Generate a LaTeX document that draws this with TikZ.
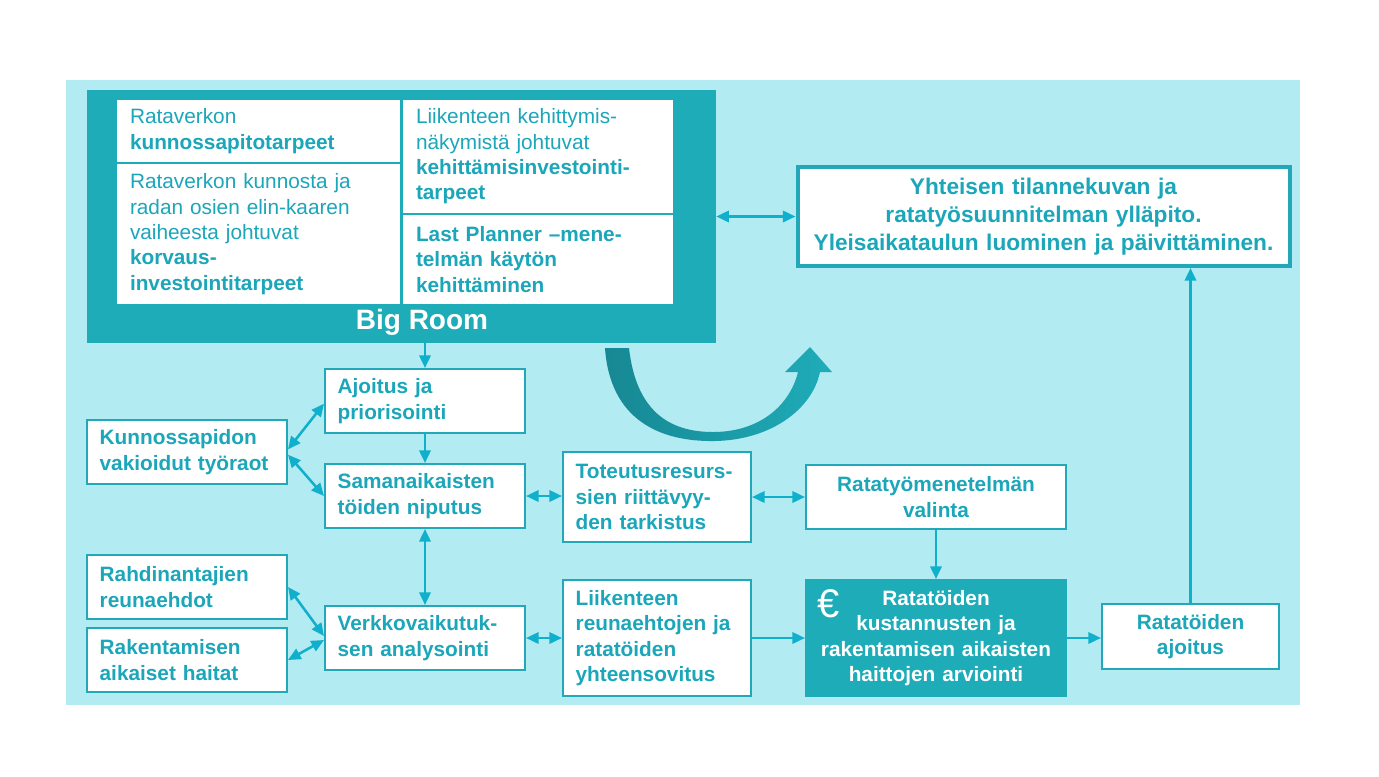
\documentclass[tikz,border=0pt]{standalone}
\usepackage{fontspec}
\setmainfont{Liberation Sans}
\usetikzlibrary{arrows.meta, positioning}
\definecolor{bgcyan}{RGB}{178,235,242}
\definecolor{roomteal}{RGB}{31,172,185}
\definecolor{darkteal}{RGB}{22,136,147}
\definecolor{lineteal}{RGB}{35,168,186}
\definecolor{textteal}{RGB}{27,166,186}
\definecolor{arrowcyan}{RGB}{16,176,204}
\newcommand{\boxfont}{\fontsize{15.6}{19}\selectfont}
\tikzset{
    box/.style = {draw=lineteal, line width=1.5pt, fill=white, text=textteal, font=\boxfont\bfseries, inner xsep=9.5pt, inner ysep=0pt, align=left},
    cbox/.style = {box, align=center},
    cell/.style = {fill=white, text=textteal, font=\boxfont, inner xsep=9.75pt, inner ysep=0pt, align=left},
    flow/.style = {draw=arrowcyan, line width=1.9pt, >={Triangle[length=9.5pt,width=8.5pt]}, ->},
    flow2/.style = {flow, <->},
}

\begin{document}
\begin{tikzpicture}[x=0.75pt, y=-0.75pt]
    \useasboundingbox (0,0) rectangle (1379,776);
    \fill[white] (0,0) rectangle (1379,776);
    \fill[bgcyan] (66,80) rectangle (1300,705);

    % big room
    \node[fill=roomteal, minimum width=471.75pt, minimum height=189.75pt, inner sep=0pt] (big) at (401.5,216.5) {};
    \node[cell, text width=192.75pt, minimum height=46.5pt] (c1) at (258.5,131) {Rataverkon\\\textbf{kunnossapitotarpeet}};
    \node[cell, text width=192.75pt, minimum height=105pt] (c2) at (258.5,234) {Rataverkon kunnosta ja\\radan osien elin-kaaren\\vaiheesta johtuvat\\\textbf{korvaus-}\\\textbf{investointitarpeet}};
    \node[cell, text width=183pt, minimum height=84.75pt] (c3) at (538,156.5) {Liikenteen kehittymis-\\näkymistä johtuvat\\\textbf{kehittämisinvestointi-}\\\textbf{tarpeet}};
    \node[cell, text width=183pt, minimum height=66.75pt, font=\boxfont\bfseries] (c4) at (538,259.5) {Last Planner –mene-\\telmän käytön\\kehittäminen};
    \node[text=white, font=\fontsize{21}{24}\selectfont\bfseries, inner sep=0pt] (bigtext) at (422,322) {Big Room};

    \node[cbox, line width=3pt, text width=350pt, minimum height=74.25pt, font=\fontsize{17}{21}\selectfont\bfseries] (yht) at (1043.5,216.5) {Yhteisen tilannekuvan ja\\ratatyösuunnitelman ylläpito.\\Yleisaikataulun luominen ja päivittäminen.};

    % curved arrow
    \shade[left color=darkteal, right color=roomteal] (605,348) .. controls (610,420) and (660,442) .. (715,441) .. controls (770,440) and (812,410) .. (820,372) -- (832,372) -- (810,347) -- (785,372) -- (798,372) .. controls (790,405) and (760,432) .. (713,432) .. controls (668,432) and (636,410) .. (629,348) -- cycle;

    % left part
    \node[box, text width=131pt, minimum height=48pt] (ajo) at (425,401) {Ajoitus ja\\priorisointi};
    \node[box, text width=131pt, minimum height=48pt] (kun) at (187,452) {Kunnossapidon\\vakioidut työraot};
    \node[box, text width=131pt, minimum height=48pt] (sam) at (425,496) {Samanaikaisten\\töiden niputus};
    \node[box, text width=131pt, minimum height=48pt] (rah) at (187,587) {Rahdinantajien\\reunaehdot};
    \node[box, text width=131pt, minimum height=48pt] (rak) at (187,660) {Rakentamisen\\aikaiset haitat};
    \node[box, text width=131pt, minimum height=48pt] (ver) at (425,638) {Verkkovaikutuk-\\sen analysointi};

    % middle and right part
    \node[box, text width=122pt, minimum height=67.5pt] (tot) at (657,497) {Toteutusresurs-\\sien riittävyy-\\den tarkistus};
    \node[box, text width=122pt, minimum height=87pt] (lii) at (657,638) {Liikenteen\\reunaehtojen ja\\ratatöiden\\yhteensovitus};
    \node[cbox, text width=176pt, minimum height=48pt] (men) at (936,497) {Ratatyömenetelmän\\valinta};
    \node[cbox, draw=roomteal, fill=roomteal, text=white, text width=176pt, minimum height=87pt] (eur) at (936,638) {Ratatöiden\\kustannusten ja\\rakentamisen aikaisten\\haittojen arviointi};
    \node[text=white, font=\fontsize{30}{30}\selectfont, inner sep=0pt] (euro) at (829,604) {€};
    \node[cbox, text width=113.75pt, minimum height=48.75pt] (ajt) at (1190.5,636.5) {Ratatöiden\\ajoitus};

    % connectors
    \draw[flow2] (big.east) -- (yht.west);
    \draw[flow] (ajo.north |- big.south) -- (ajo.north);
    \draw[flow] (ajo.south) -- (sam.north);
    \draw[flow2] ([yshift=2pt]kun.east) -- ([yshift=-2pt]ajo.west);
    \draw[flow2] ([yshift=-2pt]kun.east) -- (sam.west);
    \draw[flow2] (sam.south) -- (ver.north);
    \draw[flow2] (rah.east) -- ([yshift=1.5pt]ver.west);
    \draw[flow2] (rak.east) -- ([yshift=-1.5pt]ver.west);
    \draw[flow2] (sam.east) -- (tot.west |- sam.east);
    \draw[flow2] (ver.east) -- (lii.west |- ver.east);
    \draw[flow2] (tot.east) -- (men.west);
    \draw[flow] (men.south) -- (eur.north);
    \draw[flow] (lii.east) -- (eur.west);
    \draw[flow] (eur.east) -- (ajt.west |- eur.east);
    \draw[flow] (ajt.north) -- (ajt.north |- yht.south);
\end{tikzpicture}
\end{document}
